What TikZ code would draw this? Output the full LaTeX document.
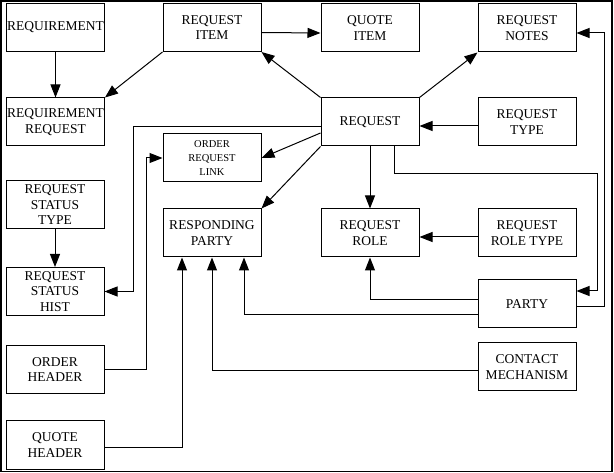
\documentclass[tikz,border=0pt]{standalone}
\usepackage{fontspec}
\setmainfont{Liberation Serif}
\usepackage{tikz}
\usetikzlibrary{arrows.meta, positioning}

\begin{document}
\begin{tikzpicture}[
  x=1pt, y=-1pt,
  every node/.style={font=\fontsize{13.5}{15.5}\selectfont},
  box/.style={rectangle, draw, line width=1pt,
              minimum width=98pt, minimum height=48pt,
              align=center, inner sep=0pt},
  smallbox/.style={box, font=\fontsize{10.5}{14}\selectfont},
  arr/.style={-{Triangle[length=13pt, width=10pt]}, line width=1pt},
]
\useasboundingbox (0,0) rectangle (614,473);
\draw[line width=1.5pt] (1,1) rectangle (612,471.5);

%% left column
\node[box] (reqm)   at (55.5,27.5) {REQUIREMENT};
\node[box] (reqreq) at (55.5,122)  {REQUIREMENT\\REQUEST};
\node[box] (rstype) at (55,205)    {REQUEST\\STATUS\\TYPE};
\node[box] (rshist) at (55,291.5)  {REQUEST\\STATUS\\HIST};
\node[box] (ordhdr) at (55,369.5)  {ORDER\\HEADER};
\node[box] (quohdr) at (55,445)    {QUOTE\\HEADER};

%% second column
\node[box]      (reqitem) at (212,27.5) {REQUEST\\ITEM};
\node[smallbox] (ordlink) at (212,158)  {ORDER\\REQUEST\\LINK};
\node[box]      (resppty) at (212,233)  {RESPONDING\\PARTY};

%% third column
\node[box] (quoitem) at (370,28)  {QUOTE\\ITEM};
\node[box] (request) at (370,122) {REQUEST};
\node[box] (reqrole) at (370,233) {REQUEST\\ROLE};

%% right column
\node[box] (reqnote) at (527,28)  {REQUEST\\NOTES};
\node[box] (reqtype) at (527,122) {REQUEST\\TYPE};
\node[box] (roltype) at (527,233) {REQUEST\\ROLE TYPE};
\node[box] (party)   at (527,304) {PARTY};
\node[box] (contact) at (527,367) {CONTACT\\MECHANISM};

\draw[arr] (reqm) -- (reqreq);
\draw[arr] (reqitem.south west) -- (reqreq.north east);
\draw[arr] ([yshift=-5pt]reqitem.east) -- ([yshift=-5pt]quoitem.west);
\draw[arr] (request.north west) -- (reqitem.south east);
\draw[arr] (request.north east) -- (reqnote.south west);
\draw[arr] ([yshift=-4pt]reqtype.west) -- ([yshift=-4pt]request.east);
\draw[arr] ([yshift=-11pt]request.west) -- (ordlink.east);
\draw[arr] (request.south west) -- (resppty.north east);
\draw[arr] (request) -- (reqrole);
\draw[arr] ([yshift=-4pt]roltype.west) -- ([yshift=-4pt]reqrole.east);
\draw[arr] (rstype) -- (rshist);
\draw[arr] ([yshift=-5pt]request.west) -- ++(-187,0) |- (rshist.east);
\draw[arr] (ordhdr.east) -- ++(42,0) |- (ordlink.west);
\draw[arr] ([yshift=-3pt]quohdr.east) -| ([xshift=-30pt]resppty.south);
\draw[arr] ([yshift=-4pt]contact.west) -| (resppty.south);
\draw[arr] ([yshift=-11pt]party.west) -| ([xshift=32pt]resppty.south);
\draw[arr] ([yshift=4pt]party.west) -| (reqrole.south);
\draw[arr] ([xshift=24pt]request.south) -- ++(0,27) -- ++(203,0)
           |- ([yshift=13pt]party.east);
\draw[arr] ([yshift=-3pt]party.east) -- ++(28,0) |- ([yshift=-5pt]reqnote.east);

\end{tikzpicture}
\end{document}
